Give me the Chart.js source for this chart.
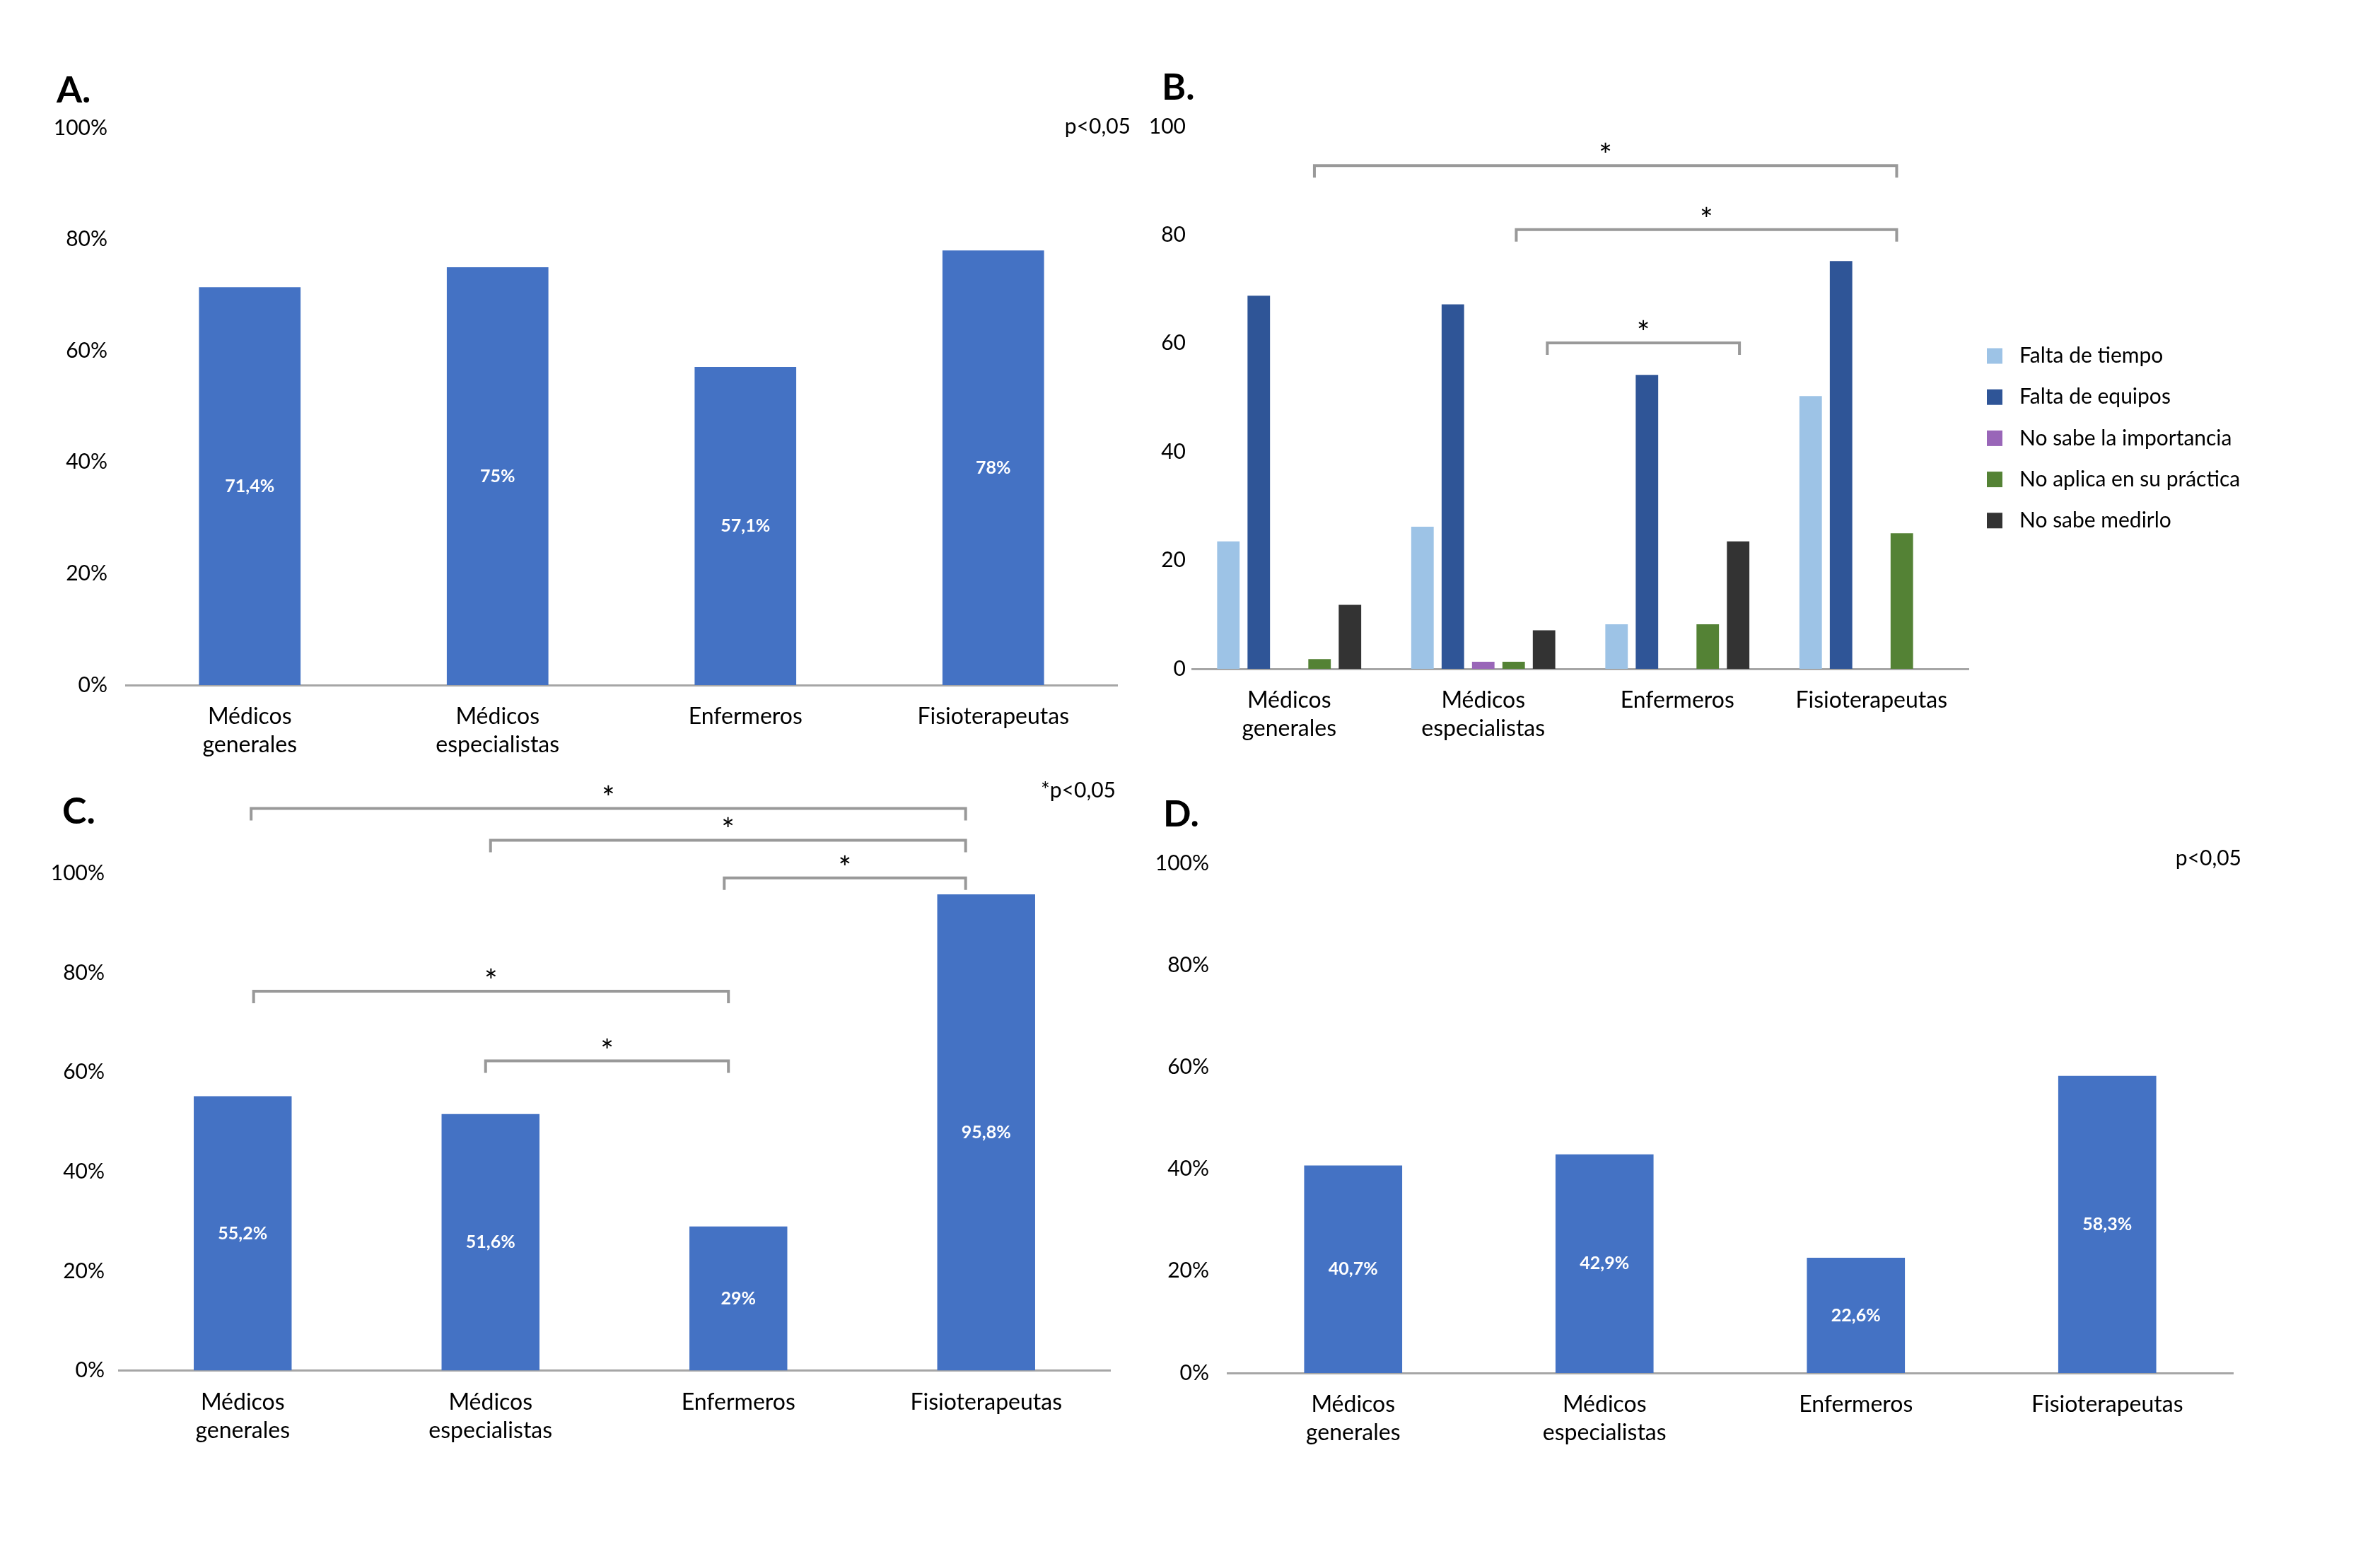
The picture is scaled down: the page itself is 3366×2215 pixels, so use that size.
<!DOCTYPE html>
<html lang="es">
<head>
<meta charset="utf-8">
<title>Profesionales: barreras y uso</title>
<script src="https://cdn.jsdelivr.net/npm/chart.js@4.4.1/dist/chart.umd.min.js"></script>
<style>
  html, body { margin: 0; padding: 0; background: #fff; }
  #wrap { position: relative; width: 3366px; height: 2215px; overflow: hidden; background: #fff; }
  canvas { position: absolute; }
</style>
</head>
<body>
<div id="wrap">
  <canvas id="chartA" width="1600" height="1100" style="left:0;top:0;width:1600px;height:1100px"></canvas>
  <canvas id="chartB" width="1766" height="1100" style="left:1600px;top:0;width:1766px;height:1100px"></canvas>
  <canvas id="chartC" width="1600" height="1115" style="left:0;top:1100px;width:1600px;height:1115px"></canvas>
  <canvas id="chartD" width="1766" height="1115" style="left:1600px;top:1100px;width:1766px;height:1115px"></canvas>
</div>
<script>
// categories shared by the four panels
const categories = [['Médicos', 'generales'], ['Médicos', 'especialistas'], 'Enfermeros', 'Fisioterapeutas'];
const yTicks = [0, 20, 40, 60, 80, 100];

// A, C, D: one series each (%)
const valuesA = [71.4, 75, 57.1, 78];
const valuesC = [55.2, 51.6, 29, 95.8];
const valuesD = [40.7, 42.9, 22.6, 58.3];

// B: barriers
const seriesB = ['Falta de tiempo', 'Falta de equipos', 'No sabe la importancia', 'No aplica en su práctica', 'No sabe medirlo'];
const faltaTiempo = [23.5, 26.2, 8.2, 50.3];
const faltaEquipos = [68.8, 67.2, 54.2, 75.2];
const noSabeImportancia = [0, 1.3, 0, 0];
const noAplica = [1.8, 1.3, 8.2, 25.0];
const noSabeMedirlo = [11.8, 7.1, 23.5, 0];
const colorsB = ['#9dc3e6', '#2f5597', '#9966b8', '#548235', '#333333'];

// significance brackets: category from/to, level on y axis, small shift inside the category
const bracketsB = [
  { from: 0, to: 3, level: 92.8, dFrom: 0.13, dTo: 0.13 },
  { from: 1, to: 3, level: 81.0, dFrom: 0.17, dTo: 0.13 },
  { from: 1, to: 2, level: 60.1, dFrom: 0.33, dTo: 0.32 }
];
const bracketsC = [
  { from: 0, to: 3, level: 113.1, dFrom: 0.034, dTo: -0.083 },
  { from: 1, to: 3, level: 106.7, dFrom: 0.0, dTo: -0.083 },
  { from: 2, to: 3, level: 99.1, dFrom: -0.057, dTo: -0.083 },
  { from: 0, to: 2, level: 76.3, dFrom: 0.044, dTo: -0.04 },
  { from: 1, to: 2, level: 62.3, dFrom: -0.02, dTo: -0.04 }
];

const FONT = 'Lato, "Open Sans", sans-serif';
Chart.defaults.font.family = FONT;
Chart.defaults.color = '#000';

const fmtPct = v => String(v).replace('.', ',') + '%';

const valueLabels = {
  id: 'valueLabels',
  afterDatasetsDraw(chart, args, opts) {
    if (!opts.show) return;
    const ctx = chart.ctx;
    ctx.save();
    ctx.font = 'bold 25px ' + FONT;
    ctx.fillStyle = '#fff';
    ctx.textAlign = 'center';
    ctx.textBaseline = 'middle';
    chart.data.datasets.forEach((ds, i) => {
      chart.getDatasetMeta(i).data.forEach((bar, j) => {
        ctx.fillText(fmtPct(ds.data[j]), bar.x, (bar.y + bar.base) / 2);
      });
    });
    ctx.restore();
  }
};

const brackets = {
  id: 'brackets',
  afterDraw(chart, args, opts) {
    const list = opts.items || [];
    if (!list.length) return;
    const xs = chart.scales.x, ys = chart.scales.y;
    const cw = xs.width / chart.data.labels.length;
    const ctx = chart.ctx;
    const starSize = 44;
    ctx.save();
    list.forEach(b => {
      const x1 = xs.getPixelForValue(b.from) + b.dFrom * cw;
      const x2 = xs.getPixelForValue(b.to) + b.dTo * cw;
      const y = ys.getPixelForValue(b.level);
      ctx.strokeStyle = '#999999';
      ctx.lineWidth = 4;
      ctx.beginPath();
      ctx.moveTo(x1, y + 17);
      ctx.lineTo(x1, y);
      ctx.lineTo(x2, y);
      ctx.lineTo(x2, y + 17);
      ctx.stroke();
      ctx.fillStyle = '#000';
      ctx.font = starSize + 'px ' + FONT;
      ctx.textAlign = 'center';
      ctx.textBaseline = 'alphabetic';
      ctx.fillText('*', (x1 + x2) / 2, y - 24 + 0.57 * starSize);
    });
    ctx.restore();
  }
};

const panelText = {
  id: 'panelText',
  afterDraw(chart, args, opts) {
    const ctx = chart.ctx;
    ctx.save();
    ctx.fillStyle = '#000';
    ctx.textBaseline = 'alphabetic';
    (opts.items || []).forEach(t => {
      ctx.font = t.font;
      ctx.textAlign = t.align || 'left';
      ctx.fillText(t.text, t.x, t.y);
    });
    ctx.restore();
  }
};

const sideLegend = {
  id: 'sideLegend',
  afterDraw(chart, args, opts) {
    if (!opts.show) return;
    const ctx = chart.ctx;
    const x0 = chart.chartArea.right + 26;
    ctx.save();
    ctx.textBaseline = 'middle';
    ctx.textAlign = 'left';
    ctx.font = '30px ' + FONT;
    chart.data.datasets.forEach((ds, i) => {
      const cy = opts.top + i * opts.gap;
      ctx.fillStyle = ds.backgroundColor;
      ctx.fillRect(x0, cy - 11, 22, 22);
      ctx.fillStyle = '#000';
      ctx.fillText(ds.label, x0 + 46, cy);
    });
    ctx.restore();
  }
};

Chart.register(valueLabels, brackets, panelText, sideLegend);

function makeChart(id, cfg) {
  return new Chart(document.getElementById(id), {
    type: 'bar',
    data: { labels: categories, datasets: cfg.datasets },
    options: {
      responsive: false,
      animation: false,
      devicePixelRatio: 1,
      layout: { padding: { left: 0, top: cfg.top, right: cfg.right, bottom: 0 } },
      datasets: { bar: { categoryPercentage: cfg.catPct, barPercentage: cfg.barPct, borderWidth: 0 } },
      plugins: {
        legend: { display: false },
        tooltip: { enabled: false },
        valueLabels: { show: !!cfg.showValues },
        brackets: { items: cfg.brackets || [] },
        panelText: { items: cfg.texts || [] },
        sideLegend: cfg.legend || { show: false }
      },
      scales: {
        x: {
          grid: { display: false, drawTicks: false },
          border: { display: true, color: '#a6a6a6', width: 3 },
          ticks: { color: '#000', font: { size: 32, lineHeight: 1.25 }, padding: 25, maxRotation: 0, autoSkip: false },
          afterFit: s => { s.height = cfg.xHeight; }
        },
        y: {
          min: 0,
          max: 100,
          grid: { display: false, drawTicks: false },
          border: { display: false },
          ticks: { color: '#000', font: { size: 30 }, padding: cfg.tickPad, callback: v => v + cfg.suffix },
          afterBuildTicks: s => { s.ticks = yTicks.map(v => ({ value: v })); },
          afterFit: s => { s.width = cfg.yWidth; }
        }
      }
    }
  });
}

const blue = '#4472c4';
const titleFont = 'bold 52px ' + FONT;
const pFont = '30px ' + FONT;

makeChart('chartA', {
  datasets: [{ label: 'A', data: valuesA, backgroundColor: blue }],
  top: 181, right: 20, xHeight: 131, yWidth: 178, tickPad: 26, suffix: '%',
  catPct: 1, barPct: 0.41, showValues: true,
  texts: [
    { text: 'A.', x: 80, y: 145, font: titleFont },
    { text: 'p<0,05', x: 1599, y: 189, font: pFont, align: 'right' }
  ]
});

makeChart('chartB', {
  datasets: seriesB.map((name, i) => ({
    label: name,
    data: [faltaTiempo, faltaEquipos, noSabeImportancia, noAplica, noSabeMedirlo][i],
    backgroundColor: colorsB[i]
  })),
  top: 179, right: 582, xHeight: 154, yWidth: 86, tickPad: 9, suffix: '',
  catPct: 0.783, barPct: 0.74,
  brackets: bracketsB,
  legend: { show: true, top: 503.5, gap: 58.2 },
  texts: [
    { text: 'B.', x: 43, y: 141, font: titleFont }
  ]
});

makeChart('chartC', {
  datasets: [{ label: 'C', data: valuesC, backgroundColor: blue }],
  top: 135.5, right: 30, xHeight: 276.5, yWidth: 168, tickPad: 20, suffix: '%',
  catPct: 1, barPct: 0.395, showValues: true,
  brackets: bracketsC,
  texts: [
    { text: 'C.', x: 88, y: 65, font: titleFont },
    { text: '*p<0,05', x: 1578, y: 28, font: pFont, align: 'right' }
  ]
});

makeChart('chartD', {
  datasets: [{ label: 'D', data: valuesD, backgroundColor: blue }],
  top: 121, right: 208, xHeight: 273, yWidth: 136, tickPad: 26, suffix: '%',
  catPct: 1, barPct: 0.39, showValues: true,
  texts: [
    { text: 'D.', x: 45, y: 69, font: titleFont },
    { text: 'p<0,05', x: 1570, y: 124, font: pFont, align: 'right' }
  ]
});
</script>
</body>
</html>
